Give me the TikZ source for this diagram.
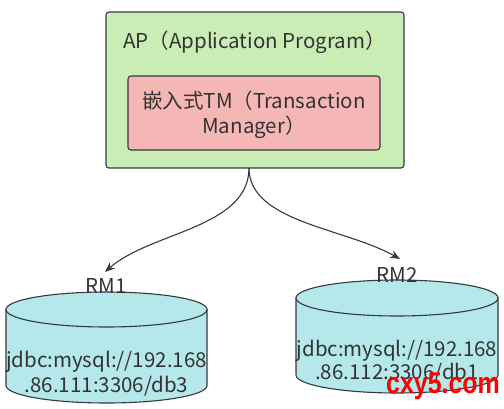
\documentclass[tikz,border=0pt]{standalone}
\usepackage{fontspec}
\usetikzlibrary{arrows.meta}
\setmainfont{Noto Sans CJK SC}
\newfontfamily\wmfont{Liberation Sans}
\definecolor{textc}{HTML}{333333}
\definecolor{strokec}{HTML}{36393D}
\definecolor{apfill}{HTML}{CAECB5}
\definecolor{tmfill}{HTML}{F5B7B5}
\definecolor{dbfill}{HTML}{B5E8EA}
\definecolor{wmred}{HTML}{FF0000}
\begin{document}
\begin{tikzpicture}[x=1pt,y=-1pt,
  txt/.style={font=\fontsize{20.5}{25}\selectfont, text=textc, inner sep=0pt},
  apbox/.style={draw=strokec, fill=apfill, line width=1.1pt, rounded corners=3pt,
    minimum width=298pt, minimum height=156pt, inner sep=0pt},
  tmbox/.style={draw=strokec, fill=tmfill, line width=1.1pt, rounded corners=3pt,
    minimum width=252pt, minimum height=74pt, inner sep=0pt},
  dbline/.style={draw=strokec, line width=1.1pt},
  conn/.style={draw=strokec, line width=1.1pt, -{Stealth[length=10pt,width=8pt]}}]
\useasboundingbox (0,0) rectangle (504,409);
\fill[white] (0,0) rectangle (504,409);
% AP box
\node[apbox] (ap) at (255,90) {};
\node[txt, anchor=west] (aplabel) at (123,42) {AP（Application Program）};
\node[tmbox] (tm) at (254,113) {};
\node[txt, align=center] (tmlabel) at (254,114.5) {嵌入式TM（Transaction\\Manager）};
% cylinder 1
\path[dbline, fill=dbfill] (6,309.5) -- (6,385.5) arc[start angle=180, end angle=360, x radius=100.5pt, y radius=17.5pt] -- (207,309.5) -- cycle;
\draw[dbline, fill=dbfill] (106.5,309.5) ellipse[x radius=100.5pt, y radius=17.5pt];
\node[txt, align=center] (db1) at (106.5,373.5) {jdbc:mysql://192.168\\.86.111:3306/db3};
\node[txt] (rm1) at (106,286) {RM1};
% cylinder 2
\path[dbline, fill=dbfill] (296,298) -- (296,375) arc[start angle=180, end angle=360, x radius=101pt, y radius=18pt] -- (498,298) -- cycle;
\draw[dbline, fill=dbfill] (397,298) ellipse[x radius=101pt, y radius=18pt];
\node[txt, align=center, font=\fontsize{20.5}{23}\selectfont] (db2) at (397,362) {jdbc:mysql://192.168\\.86.112:3306/db1};
\node[txt] (rm2) at (397,275) {RM2};
% connectors
\coordinate (s) at (249,168);
\coordinate (e1) at (105,272);
\coordinate (e2) at (400,259);
\draw[conn] (s) .. controls (249,228) and (150,232) .. (e1);
\draw[conn] (s) .. controls (249,222) and (345,228) .. (e2);
% watermark
\node[font=\wmfont\bfseries\fontsize{30}{30}\selectfont, text=wmred, xscale=0.83, inner sep=0pt] (wm) at (443,386) {cxy5.com};
\end{tikzpicture}
\end{document}
